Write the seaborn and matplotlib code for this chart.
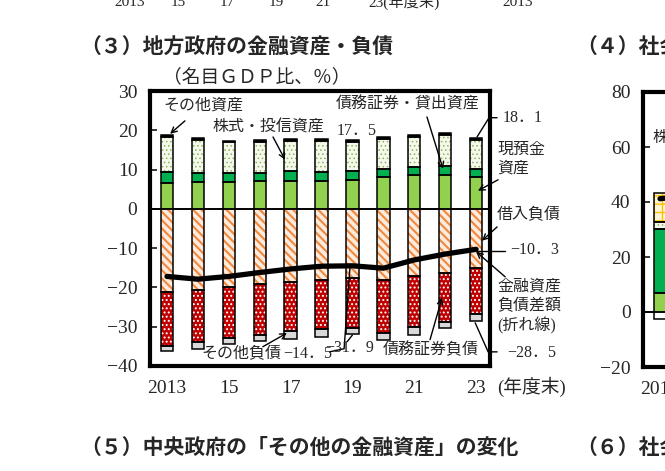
import matplotlib
matplotlib.use('Agg')
import matplotlib.pyplot as plt
import seaborn as sns

# 年度（2013〜2023年度末）
fiscal_years = list(range(2013, 2024))
tick_pos = [0, 2, 4, 6, 8, 10]
tick_labels = ['2013', '15', '17', '19', '21', '23']

# 資産（名目GDP比、%）
cash = [6.6, 6.9, 6.9, 7.1, 7.1, 7.2, 7.4, 8.0, 8.5, 8.6, 8.2]            # 現預金資産
debt_loan = [2.9, 2.2, 2.2, 2.0, 2.6, 2.3, 2.3, 2.2, 2.2, 2.3, 1.9]       # 債務証券・貸出資産
stocks = [8.8, 8.4, 7.8, 8.0, 7.6, 7.8, 7.3, 7.7, 7.6, 7.9, 7.5]          # 株式・投信資産
other_assets = [0.5, 0.5, 0.5, 0.5, 0.5, 0.5, 0.5, 0.5, 0.5, 0.5, 0.5]    # その他資産

# 負債（マイナス表示）
borrowing = [-21.2, -20.6, -19.9, -19.1, -18.5, -18.1, -17.6, -18.2, -17.2, -16.2, -15.1]  # 借入負債
debt_sec = [-13.7, -13.2, -13.0, -13.1, -12.5, -12.5, -12.8, -13.3, -12.9, -12.5, -11.6]   # 債務証券負債
other_liab = [-1.4, -1.9, -1.5, -1.4, -2.0, -1.9, -1.5, -1.8, -2.0, -1.7, -1.8]            # その他負債

# 金融資産負債差額（折れ線）
net_position = [-17.2, -17.9, -17.2, -16.2, -15.3, -14.6, -14.5, -15.1, -13.0, -11.5, -10.3]

# (4) 社会保障基金：切り取られて最初の棒だけ見えている
ss_cash = [6.8]
ss_debt_loan = [23.5]
ss_stocks = [2.4]
ss_foreign = [10.6]
ss_liab = [-2.7]
ss_net = [41.2, 42.3]

BAR_W = 0.40
GREEN_L = '#92D050'
GREEN_D = '#00B050'

sns.set_style('white')
plt.rcParams['font.family'] = ['Liberation Serif', 'Noto Sans CJK JP']
plt.rcParams['axes.unicode_minus'] = True

fig = plt.figure(figsize=(6.65, 4.71), dpi=100)
W, H = 665, 471


def seg(ax, x, h, bottom, face, hatch=None, hcolor=None, hlw=1.0):
    # 塗り（ハッチ付き）と黒枠を別々に描く
    if hatch:
        with plt.rc_context({'hatch.linewidth': hlw}):
            ax.bar(x, h, BAR_W, bottom=bottom, color=face, edgecolor=hcolor,
                   hatch=hatch, linewidth=0, zorder=2)
    else:
        ax.bar(x, h, BAR_W, bottom=bottom, color=face, linewidth=0, zorder=2)
    ax.bar(x, h, BAR_W, bottom=bottom, fill=False, edgecolor='black',
           linewidth=1.1, zorder=3)


def frame(ax):
    for s in ax.spines.values():
        s.set_linewidth(3)
        s.set_color('black')
        s.set_visible(True)
    ax.tick_params(axis='y', direction='in', length=5, width=1.3,
                   labelsize=14, pad=9, left=True)
    ax.tick_params(axis='x', length=0, labelsize=14, pad=10)
    ax.grid(False)


def stack(ax, x, parts_pos, parts_neg):
    b = [0.0] * len(x)
    for vals, style in parts_pos:
        seg(ax, x, vals, b, **style)
        b = [bb + v for bb, v in zip(b, vals)]
    b = [0.0] * len(x)
    for vals, style in parts_neg:
        seg(ax, x, vals, b, **style)
        b = [bb + v for bb, v in zip(b, vals)]


# ---------------- (3) 地方政府 ----------------
ax = fig.add_axes([150 / W, 1 - 366 / H, 340 / W, 275 / H])
idx = list(range(len(fiscal_years)))

stack(ax, idx,
      [(cash, dict(face=GREEN_L)),
       (debt_loan, dict(face=GREEN_D)),
       (stocks, dict(face='#F4F9EC', hatch='....', hcolor='#8DB457', hlw=0.6)),
       (other_assets, dict(face='black'))],
      [(borrowing, dict(face='#FDEBDD', hatch='\\\\\\\\', hcolor='#F0883E', hlw=1.5)),
       (debt_sec, dict(face='#C00000', hatch='....', hcolor='white', hlw=0.9)),
       (other_liab, dict(face='#D9D9D9'))])

ax.axhline(0, color='black', lw=1.4, zorder=1)
sns.lineplot(x=idx, y=net_position, ax=ax, color='black', lw=3.8, zorder=5)

ax.set_xlim(-0.55, 10.45)
ax.set_ylim(-40, 30)
ax.set_yticks(range(-40, 31, 10))
ax.set_xticks(tick_pos)
ax.set_xticklabels(tick_labels)
frame(ax)

arrow = dict(arrowstyle='->', lw=1.0, color='black', shrinkA=0, shrinkB=0,
             mutation_scale=10)
fs = 11.5

ax.text(1.17, 26.2, 'その他資産', fontsize=fs, ha='center', va='center')
ax.annotate('', xy=(0.1, 19.1), xytext=(0.58, 22.4), arrowprops=arrow)
ax.text(3.27, 20.6, '株式・投信資産', fontsize=fs, ha='center', va='center')
ax.annotate('', xy=(3.82, 12.5), xytext=(3.43, 18.3), arrowprops=arrow)
ax.text(6.12, 19.8, '17．5', fontsize=fs, ha='center', va='center')
ax.text(7.8, 26.5, '債務証券・貸出資産', fontsize=fs, ha='center', va='center')
ax.annotate('', xy=(8.93, 10.2), xytext=(8.41, 23.4), arrowprops=arrow)

ax.text(10.87, 23.2, '18．1', fontsize=fs, ha='left', va='center')
ax.plot([10.03, 10.42, 10.68], [18.3, 23.2, 23.2], color='black', lw=1.0, clip_on=False)
ax.text(10.68, 12.7, '現預金\n資産', fontsize=fs, ha='left', va='center', linespacing=1.25)
ax.annotate('', xy=(10.06, 4.6), xytext=(10.71, 7.4), arrowprops=arrow,
            annotation_clip=False)
ax.text(10.68, -1.5, '借入負債', fontsize=fs, ha='left', va='center')
ax.annotate('', xy=(10.19, -8.1), xytext=(10.68, -4.6), arrowprops=arrow,
            annotation_clip=False)
ax.text(11.1, -10.5, '−10．3', fontsize=fs, ha='left', va='center')
ax.plot([10.03, 10.94], [-10.7, -10.7], color='black', lw=1.0, clip_on=False)
ax.text(10.68, -24.9, '金融資産\n負債差額\n(折れ線)', fontsize=fs, ha='left',
        va='center', linespacing=1.25)
ax.annotate('', xy=(10.0, -10.9), xytext=(10.94, -17.3), arrowprops=arrow,
            annotation_clip=False)
ax.text(11.0, -36.6, '−28．5', fontsize=fs, ha='left', va='center')
ax.plot([9.97, 10.39, 10.68], [-29.0, -36.4, -36.4], color='black', lw=1.0, clip_on=False)
ax.text(8.54, -35.9, '債務証券負債', fontsize=fs, ha='center', va='center')
ax.annotate('', xy=(8.9, -22.6), xytext=(8.51, -33.3), arrowprops=arrow)
ax.text(2.4, -36.9, 'その他負債', fontsize=fs, ha='center', va='center')
ax.annotate('', xy=(3.88, -31.6), xytext=(3.1, -35.1), arrowprops=arrow)
ax.text(4.55, -36.9, '−14．5', fontsize=fs, ha='center', va='center')
ax.plot([5.26, 5.73, 5.92], [-36.4, -35.6, -14.8], color='black', lw=1.0)
ax.text(5.92, -35.4, '−31．9', fontsize=fs, ha='center', va='center')
ax.plot([5.83, 6.0], [-33.8, -32.1], color='black', lw=1.0)

fig.text(497 / W, 1 - 387 / H, '(年度末)', fontsize=13.5, ha='left', va='center')
fig.text(257 / W, 1 - 77 / H, '（名目ＧＤＰ比、％）', fontsize=13.5,
         ha='center', va='center')

# ---------------- (4) 社会保障基金（右端で切れている） ----------------
ax4 = fig.add_axes([643 / W, 1 - 367 / H, 340 / W, 275 / H])
stack(ax4, [0],
      [(ss_cash, dict(face=GREEN_L)),
       (ss_debt_loan, dict(face=GREEN_D)),
       (ss_stocks, dict(face='#F4F9EC', hatch='....', hcolor='#8DB457', hlw=0.6)),
       (ss_foreign, dict(face='#FFF6D5', hatch='++', hcolor='#FFC000', hlw=1.0))],
      [(ss_liab, dict(face='white'))])
ax4.axhline(0, color='black', lw=1.4, zorder=1)
sns.lineplot(x=[0, 1], y=ss_net, ax=ax4, color='black', lw=3.8, zorder=5)
ax4.set_xlim(-0.55, 10.45)
ax4.set_ylim(-20, 80)
ax4.set_yticks(range(-20, 81, 20))
ax4.set_xticks([0])
ax4.set_xticklabels(['2013'])
frame(ax4)
ax4.text(-0.23, 63, '株式・投信資産', fontsize=fs, ha='left', va='center')
fig.text(660 / W, 1 - 77 / H, '（名目ＧＤＰ比、％）', fontsize=13.5,
         ha='left', va='center')

# ---------------- 見出し ----------------
title_kw = dict(fontsize=15, fontweight='bold', family=['Noto Sans CJK JP'],
                ha='left', va='center')
fig.text(80 / W, 1 - 47 / H, '（３）地方政府の金融資産・負債', **title_kw)
fig.text(576 / W, 1 - 47 / H, '（４）社会保障基金の金融資産・負債', **title_kw)
fig.text(80 / W, 1 - 447 / H, '（５）中央政府の「その他の金融資産」の変化', **title_kw)
fig.text(576 / W, 1 - 447 / H, '（６）社会保障基金の「その他の金融資産」の変化', **title_kw)

# 上段のグラフの横軸ラベル（上端で切れている）
for px, lab in [(130, '2013'), (178, '15'), (227, '17'), (276, '19'),
                (323, '21'), (518, '2013')]:
    fig.text(px / W, 1 - 2 / H, lab, fontsize=11, ha='center', va='center')
fig.text(368 / W, 1 - 2 / H, '23(年度末)', fontsize=11, ha='left', va='center')

fig.savefig('out.png', dpi=100)
